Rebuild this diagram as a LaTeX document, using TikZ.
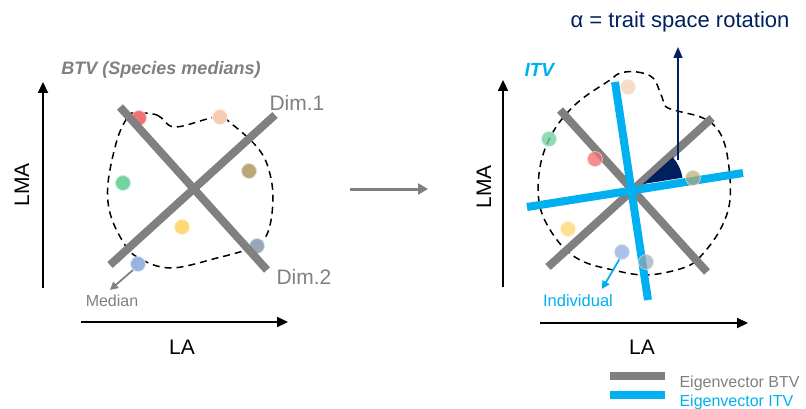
\documentclass[tikz,border=0pt]{standalone}
\usepackage{fontspec}
\setmainfont{Liberation Sans}
\usetikzlibrary{arrows.meta}
\definecolor{btvgray}{HTML}{808080}
\definecolor{itvblue}{HTML}{00B0F0}
\definecolor{navy}{HTML}{002060}
\definecolor{sred}{HTML}{F27272}
\definecolor{speach}{HTML}{F4CDB0}
\definecolor{sgreen}{HTML}{72D2A0}
\definecolor{solive}{HTML}{B8A878}
\definecolor{syellow}{HTML}{FFD878}
\definecolor{sslate}{HTML}{98A6B8}
\definecolor{sblue}{HTML}{98B2E2}

\begin{document}
\begin{tikzpicture}[x=1pt, y=-1pt,
    species/.style ={circle, fill=#1, draw=#1!35, line width=0.8pt, minimum size=15pt, inner sep=0pt},
    btvaxis/.style ={btvgray, line width=8pt},
    itvaxis/.style ={itvblue, line width=8pt},
    traitaxis/.style ={black, line width=2.2pt, -{Triangle[length=11pt, width=10pt]}},
    hull/.style ={black, line width=1.5pt, dash pattern=on 7pt off 5pt},
    lbl/.style ={font=\fontsize{21}{21}\selectfont}]
   \useasboundingbox (0,0) rectangle (806,409);

   % left panel: BTV
   \node[font=\fontsize{18}{18}\selectfont\bfseries\itshape, text=btvgray] (btvtitle) at (161,70) {BTV (Species medians)};
   \coordinate (lyb) at (43,288);
   \coordinate (lyt) at (43,82);
   \coordinate (lxl) at (81,322);
   \coordinate (lxr) at (288,322);
   \draw[traitaxis] (lyb) to (lyt);
   \draw[traitaxis] (lxl) to (lxr);
   \node[lbl, rotate=90] (lma1) at (22,185) {LMA};
   \node[lbl] (la1) at (182,347) {LA};

   \draw[hull] plot[smooth cycle, tension=0.6] coordinates {(133,113) (157,115) (175,127) (217,117) (233,125) (257,147)
      (268,167) (273,197) (268,232) (253,247) (217,258) (170,268) (137,257) (122,240) (110,213) (108,183) (117,140) (127,118)};

   \node[species=sred] (a1) at (139,118) {};
   \node[species=speach] (b1) at (220,117) {};
   \node[species=sgreen] (c1) at (123,183) {};
   \node[species=solive] (d1) at (249,171) {};
   \node[species=syellow] (e1) at (182,227) {};
   \node[species=sslate] (f1) at (257,246) {};
   \node[species=sblue] (g1) at (138,264) {};

   \coordinate (d1s) at (120,107);
   \coordinate (d1e) at (267,270);
   \coordinate (d2s) at (110,265);
   \coordinate (d2e) at (275,115);
   \draw[btvaxis] (d1s) to (d1e);
   \draw[btvaxis] (d2s) to (d2e);
   \node[lbl, text=btvgray, anchor=west] (dim1) at (266,103) {Dim.1};
   \node[lbl, text=btvgray, anchor=west] (dim2) at (273,277) {Dim.2};

   \coordinate (medtip) at (110,290);
   \draw[btvgray, line width=1.8pt, -{Triangle[length=8pt, width=8pt]}] (g1.-130) to (medtip);
   \node[font=\fontsize{16}{16}\selectfont, text=btvgray] (median) at (112,301) {Median};

   % middle arrow
   \coordinate (ms) at (350,189);
   \coordinate (me) at (428,189);
   \draw[btvgray, line width=3pt, -{Triangle[length=10pt, width=11pt]}] (ms) to (me);

   % right panel: ITV
   \node[font=\fontsize{22}{22}\selectfont, text=navy] (alpha) at (680,22) {α = trait space rotation};
   \node[font=\fontsize{19}{19}\selectfont\bfseries\itshape, text=itvblue, anchor=west] (itvtitle) at (521,70) {ITV};
   \coordinate (ryb) at (503,287);
   \coordinate (ryt) at (503,80);
   \coordinate (rxl) at (540,323);
   \coordinate (rxr) at (748,323);
   \draw[traitaxis] (ryb) to (ryt);
   \draw[traitaxis] (rxl) to (rxr);
   \node[lbl, rotate=90] (lma2) at (484,187) {LMA};
   \node[lbl] (la2) at (642,347) {LA};

   \draw[hull] plot[smooth cycle, tension=0.6] coordinates {(620,73) (637,72) (653,78) (662,97) (668,108) (703,118)
      (720,133) (728,160) (730,200) (720,230) (700,257) (683,268) (647,275) (613,270) (580,260) (557,240)
      (540,207) (540,167) (553,132) (577,103) (610,80)};

   \coordinate (b1s) at (560,110);
   \coordinate (b1e) at (707,272);
   \coordinate (b2s) at (548,267);
   \coordinate (b2e) at (712,118);
   \draw[btvaxis] (b1s) to (b1e);
   \draw[btvaxis] (b2s) to (b2e);

   \coordinate (rot) at (643,184);
   \fill[navy] (rot) -- ++(-42:40) arc[start angle=-42, end angle=-9, radius=40] -- cycle;
   \coordinate (navyb) at (678,160);
   \coordinate (navyt) at (678,47);
   \draw[navy, line width=1.5pt, -{Triangle[length=11pt, width=9pt]}] (navyb) to (navyt);

   \coordinate (i1s) at (615,82);
   \coordinate (i1e) at (648,300);
   \coordinate (i2s) at (527,207);
   \coordinate (i2e) at (743,173);
   \draw[itvaxis] (i1s) to (i1e);
   \draw[itvaxis] (i2s) to (i2e);

   \node[species=speach, opacity=0.7] (b2) at (628,87) {};
   \node[species=sgreen, opacity=0.8] (c2) at (549,139) {};
   \node[species=sred, opacity=0.8] (a2) at (595,159) {};
   \node[species=solive, opacity=0.7] (d2) at (693,178) {};
   \node[species=syellow, opacity=0.8] (e2) at (568,229) {};
   \node[species=sblue, opacity=0.8] (g2) at (622,252) {};
   \node[species=sslate, opacity=0.7] (f2) at (646,262) {};

   \coordinate (indtip) at (602,289);
   \draw[itvblue, line width=1.8pt, -{Triangle[length=8pt, width=8pt]}] (g2.-110) to (indtip);
   \node[font=\fontsize{16.5}{16.5}\selectfont, text=itvblue] (individual) at (578,301) {Individual};

   % legend
   \coordinate (lgs) at (610,376);
   \coordinate (lge) at (665,376);
   \coordinate (lis) at (610,395);
   \coordinate (lie) at (665,395);
   \draw[btvaxis] (lgs) to (lge);
   \draw[itvaxis] (lis) to (lie);
   \node[font=\fontsize{16}{16}\selectfont, text=btvgray, anchor=west] (legbtv) at (676,383) {Eigenvector BTV};
   \node[font=\fontsize{16}{16}\selectfont, text=itvblue, anchor=west] (legitv) at (676,402) {Eigenvector ITV};
 \end{tikzpicture}
\end{document}
